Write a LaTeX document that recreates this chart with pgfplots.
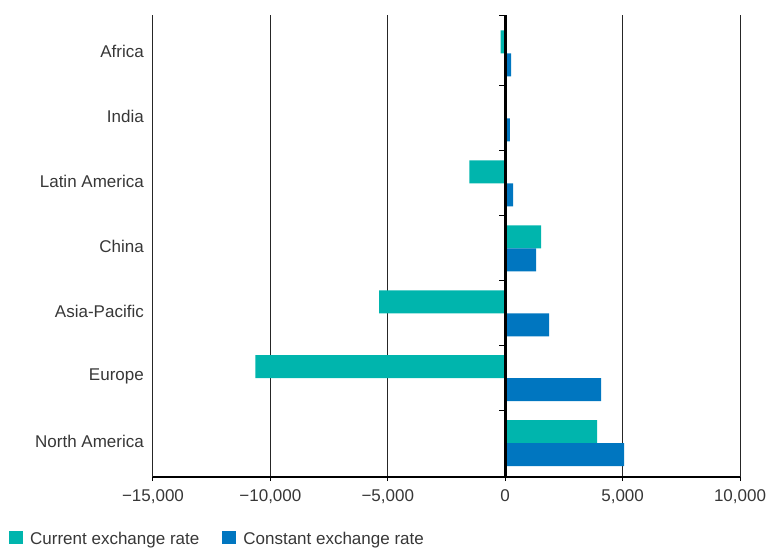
\documentclass[border=0pt]{standalone}
\usepackage{fontspec}
\setmainfont{Liberation Sans}
\usepackage{pgfplots}
\pgfplotsset{compat=1.18}
\definecolor{curr}{RGB}{0,181,173}
\definecolor{const}{RGB}{0,118,192}
\definecolor{txt}{RGB}{55,55,55}
\newcommand\lbl{\fontsize{17bp}{20bp}\selectfont}
\begin{document}
\begin{tikzpicture}
\begin{axis}[
  at={(0,0)}, anchor=south west,
  scale only axis,
  width=587bp, height=462bp,
  xbar=0pt, bar width=23bp,
  xmin=-15000, xmax=10000,
  ymin=-0.59, ymax=6.52,
  y dir=reverse,
  axis x line*=bottom, axis y line*=left,
  y axis line style={draw=none},
  x axis line style={line width=2.5bp, black},
  scaled x ticks=false,
  xtick={-15000,-10000,-5000,0,5000,10000},
  xticklabels={{−15,000},{−10,000},{−5,000},{0},{5,000},{10,000}},
  ytick={0,...,6},
  yticklabels={Africa,India,Latin America,China,Asia-Pacific,Europe,North America},
  tick align=outside,
  major tick length=4bp,
  x tick style={black, line width=1bp},
  y tick style={draw=none},
  xmajorgrids,
  grid style={black!85, line width=1bp},
  tick label style={font=\lbl, text=txt, inner sep=0pt},
  xticklabel style={yshift=-8bp},
  yticklabel style={xshift=-5bp, yshift=2bp},
  legend style={at={(0,0)}, anchor=north west, xshift=-144bp, yshift=-54bp,
    draw=none, fill=none, inner sep=0pt, font=\lbl, text=txt,
    nodes={inner sep=0pt},
    legend columns=2,
    /tikz/every odd column/.style={column sep=7bp},
    /tikz/every even column/.style={column sep=23bp}},
  legend cell align=left,
  legend image code/.code={\fill[#1] (0bp,-5bp) rectangle (14bp,8bp);},
]
\addplot[draw=none, fill=curr, bar shift=11.5bp] coordinates {
  (-200,0) (0,1) (-1530,2) (1530,3) (-5370,4) (-10640,5) (3920,6)};
\addlegendentry{Current exchange rate}
\addplot[draw=none, fill=const, bar shift=-11.5bp] coordinates {
  (250,0) (200,1) (340,2) (1320,3) (1875,4) (4090,5) (5070,6)};
\addlegendentry{Constant exchange rate}
\draw[black, line width=2.7bp] (axis cs:0,-0.59) -- (axis cs:0,6.52);
\pgfplotsinvokeforeach{-0.59,0.5,1.5,2.5,3.5,4.5,5.5}{
  \draw[black, line width=1bp] (axis cs:0,#1) -- ([xshift=-6bp]axis cs:0,#1);
}
\end{axis}
\pgfresetboundingbox
\path[use as bounding box] (-153bp,-71bp) rectangle (613bp,477bp);
\end{tikzpicture}
\end{document}
